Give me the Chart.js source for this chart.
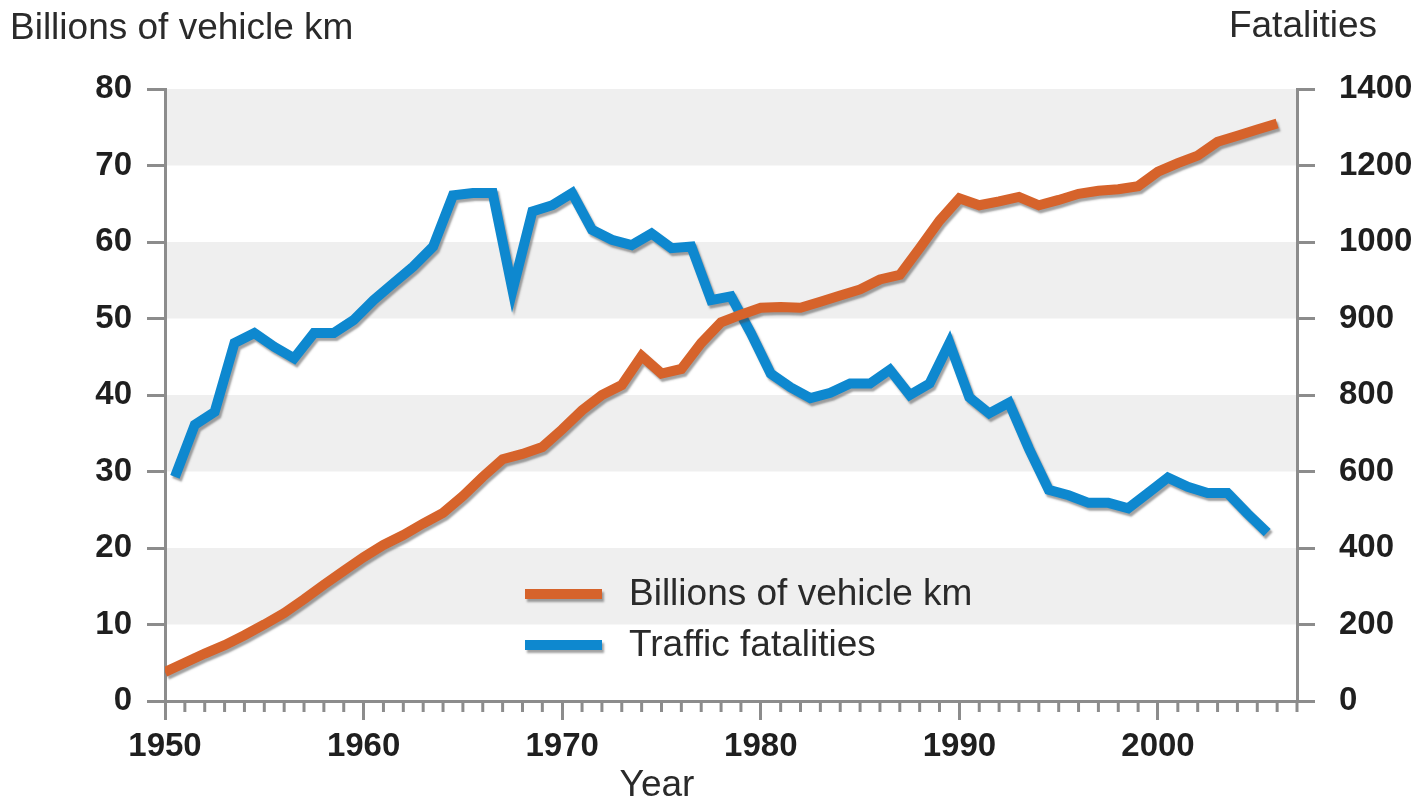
<!DOCTYPE html>
<html>
<head>
<meta charset="utf-8">
<script src="https://cdn.jsdelivr.net/npm/chart.js@4.4.1/dist/chart.umd.min.js"></script>
<style>
  html, body { margin: 0; padding: 0; background: #fff; }
  #wrap { width: 1424px; height: 805px; position: relative; }
</style>
</head>
<body>
<div id="wrap"><canvas id="chart" width="1424" height="805"></canvas></div>
<script>
const years = [
  1950, 1951, 1952, 1953, 1954, 1955, 1956, 1957, 1958, 1959,
  1960, 1961, 1962, 1963, 1964, 1965, 1966, 1967, 1968, 1969,
  1970, 1971, 1972, 1973, 1974, 1975, 1976, 1977, 1978, 1979,
  1980, 1981, 1982, 1983, 1984, 1985, 1986, 1987, 1988, 1989,
  1990, 1991, 1992, 1993, 1994, 1995, 1996, 1997, 1998, 1999,
  2000, 2001, 2002, 2003, 2004, 2005, 2006
];

// billions of vehicle km (left axis), 1950-2006
const vehicleKm = [
  3.8, 5.0, 6.2, 7.3, 8.6, 10.0, 11.5, 13.3, 15.2, 17.0,
  18.8, 20.4, 21.7, 23.2, 24.6, 26.8, 29.3, 31.6, 32.3, 33.2,
  35.5, 38.0, 40.0, 41.3, 45.1, 42.8, 43.4, 46.8, 49.5, 50.5,
  51.4, 51.5, 51.4, 52.2, 53.0, 53.8, 55.1, 55.7, 59.2, 62.8,
  65.7, 64.8, 65.3, 65.9, 64.8, 65.5, 66.3, 66.7, 66.9, 67.3,
  69.2, 70.3, 71.3, 73.1, 73.9, 74.7, 75.5
];

// traffic fatalities (right axis), 1951-2006, drawn mid-year
const fatalityYears = years.slice(1);
const fatalities = [
  586, 722, 756, 936, 962, 926, 896, 962, 962,
  996, 1048, 1092, 1136, 1188, 1322, 1328, 1328, 1074, 1280,
  1296, 1328, 1232, 1206, 1192, 1222, 1184, 1188, 1048, 1058,
  962, 856, 820, 792, 806, 830, 830, 866, 800, 830,
  936, 794, 752, 780, 660, 552, 538, 518, 518, 504,
  544, 584, 560, 544, 544, 490, 440
];

const leftTicks = [0, 10, 20, 30, 40, 50, 60, 70, 80];
// labels as printed on the right axis of the original
const rightTickLabels = ['0', '200', '400', '600', '800', '900', '1000', '1200', '1400'];
const decadeLabels = [1950, 1960, 1970, 1980, 1990, 2000];

const AXIS = '#8c8c8c';
const TEXT = '#1f1f1f';
const ORANGE = '#d6632b';
const BLUE = '#0e88cf';
const FONT = '"Liberation Sans", Arial, Helvetica, sans-serif';

const setShadow = (ctx) => {
  ctx.shadowColor = 'rgba(70,70,70,0.5)';
  ctx.shadowOffsetX = 2;
  ctx.shadowOffsetY = 3;
  ctx.shadowBlur = 2;
};

const decor = {
  id: 'decor',
  beforeDraw(chart) {
    const { ctx, chartArea } = chart;
    const y = chart.scales.y;
    ctx.save();
    ctx.fillStyle = '#efefef';
    for (let i = 1; i < leftTicks.length; i += 2) {
      const top = y.getPixelForValue(leftTicks[i + 1]);
      const bot = y.getPixelForValue(leftTicks[i]);
      ctx.fillRect(chartArea.left, top, chartArea.right - chartArea.left, bot - top);
    }
    ctx.restore();
  },
  afterDraw(chart) {
    const { ctx, chartArea } = chart;
    const x = chart.scales.x;
    ctx.save();
    // minor year ticks
    ctx.strokeStyle = AXIS;
    ctx.lineWidth = 3;
    for (let yr = 1951; yr <= 2007; yr++) {
      if (yr % 10 === 0) continue;
      const px = x.getPixelForValue(yr);
      ctx.beginPath();
      ctx.moveTo(px, chartArea.bottom);
      ctx.lineTo(px, chartArea.bottom + 11);
      ctx.stroke();
    }

    // axis titles
    ctx.fillStyle = '#2a2a2a';
    ctx.font = '37px ' + FONT;
    ctx.textBaseline = 'middle';
    ctx.textAlign = 'left';
    ctx.fillText('Billions of vehicle km', 10, 29);
    ctx.textAlign = 'right';
    ctx.fillText('Fatalities', 1377, 27);
    ctx.textAlign = 'center';
    ctx.fillText('Year', 657, 786);

    // legend
    const items = chart.data.datasets;
    const rows = [594, 645];
    items.forEach((ds, i) => {
      ctx.save();
      setShadow(ctx);
      ctx.strokeStyle = ds.borderColor;
      ctx.lineWidth = 10;
      ctx.beginPath();
      ctx.moveTo(525, rows[i]);
      ctx.lineTo(602, rows[i]);
      ctx.stroke();
      ctx.restore();
      ctx.fillStyle = '#2a2a2a';
      ctx.textAlign = 'left';
      ctx.fillText(ds.label, 629, rows[i] + 1);
    });
    ctx.restore();
  },
  beforeDatasetDraw(chart) {
    chart.ctx.save();
    setShadow(chart.ctx);
  },
  afterDatasetDraw(chart) {
    chart.ctx.restore();
  }
};

const tickFont = { family: FONT, size: 33, weight: 'bold' };

const ctx = document.getElementById('chart').getContext('2d');
const chart = new Chart(ctx, {
  type: 'line',
  data: {
    datasets: [
      {
        label: 'Billions of vehicle km',
        data: years.map((yr, i) => ({ x: yr, y: vehicleKm[i] })),
        xAxisID: 'x',
        yAxisID: 'y',
        borderColor: ORANGE,
        backgroundColor: ORANGE,
        borderWidth: 10,
        borderJoinStyle: 'miter',
        pointRadius: 0,
        tension: 0,
      },
      {
        label: 'Traffic fatalities',
        data: fatalityYears.map((yr, i) => ({ x: yr, y: fatalities[i] })),
        xAxisID: 'xMid',
        yAxisID: 'y1',
        borderColor: BLUE,
        backgroundColor: BLUE,
        borderWidth: 10,
        borderJoinStyle: 'miter',
        pointRadius: 0,
        tension: 0,
      },
    ]
  },
  options: {
    responsive: false,
    animation: false,
    layout: { padding: { top: 89, left: 0, right: 0, bottom: 0 } },
    plugins: {
      legend: { display: false },
      title: { display: false },
      tooltip: { enabled: false },
    },
    scales: {
      x: {
        type: 'linear',
        min: 1950,
        max: 2007,
        afterFit: (scale) => { scale.height = 104; },
        border: { color: AXIS, width: 3 },
        grid: {
          drawOnChartArea: false,
          drawTicks: true,
          tickLength: 19,
          lineWidth: 3,
          color: (c) => (c.tick && decadeLabels.includes(c.tick.value) ? AXIS : 'rgba(0,0,0,0)'),
        },
        ticks: {
          stepSize: 1,
          autoSkip: false,
          maxRotation: 0,
          padding: 7,
          color: TEXT,
          font: tickFont,
          callback: (v) => (decadeLabels.includes(v) ? String(v) : ''),
        },
      },
      // fatalities are plotted half a year earlier, as in the original
      xMid: {
        type: 'linear',
        display: false,
        min: 1950.5,
        max: 2007.5,
      },
      y: {
        position: 'left',
        min: 0,
        max: 80,
        afterFit: (scale) => { scale.width = 165; },
        border: { color: AXIS, width: 3 },
        grid: {
          drawOnChartArea: false,
          drawTicks: true,
          tickLength: 18,
          lineWidth: 3,
          color: AXIS,
        },
        ticks: {
          stepSize: 10,
          padding: 15,
          color: TEXT,
          font: tickFont,
        },
      },
      y1: {
        position: 'right',
        min: 0,
        max: 1600,
        afterFit: (scale) => { scale.width = 127; },
        border: { color: AXIS, width: 3 },
        grid: {
          drawOnChartArea: false,
          drawTicks: true,
          tickLength: 18,
          lineWidth: 3,
          color: AXIS,
        },
        ticks: {
          stepSize: 200,
          padding: 24,
          color: TEXT,
          font: tickFont,
          callback: (v, i) => rightTickLabels[i],
        },
      },
    },
  },
  plugins: [decor],
});
</script>
</body>
</html>
